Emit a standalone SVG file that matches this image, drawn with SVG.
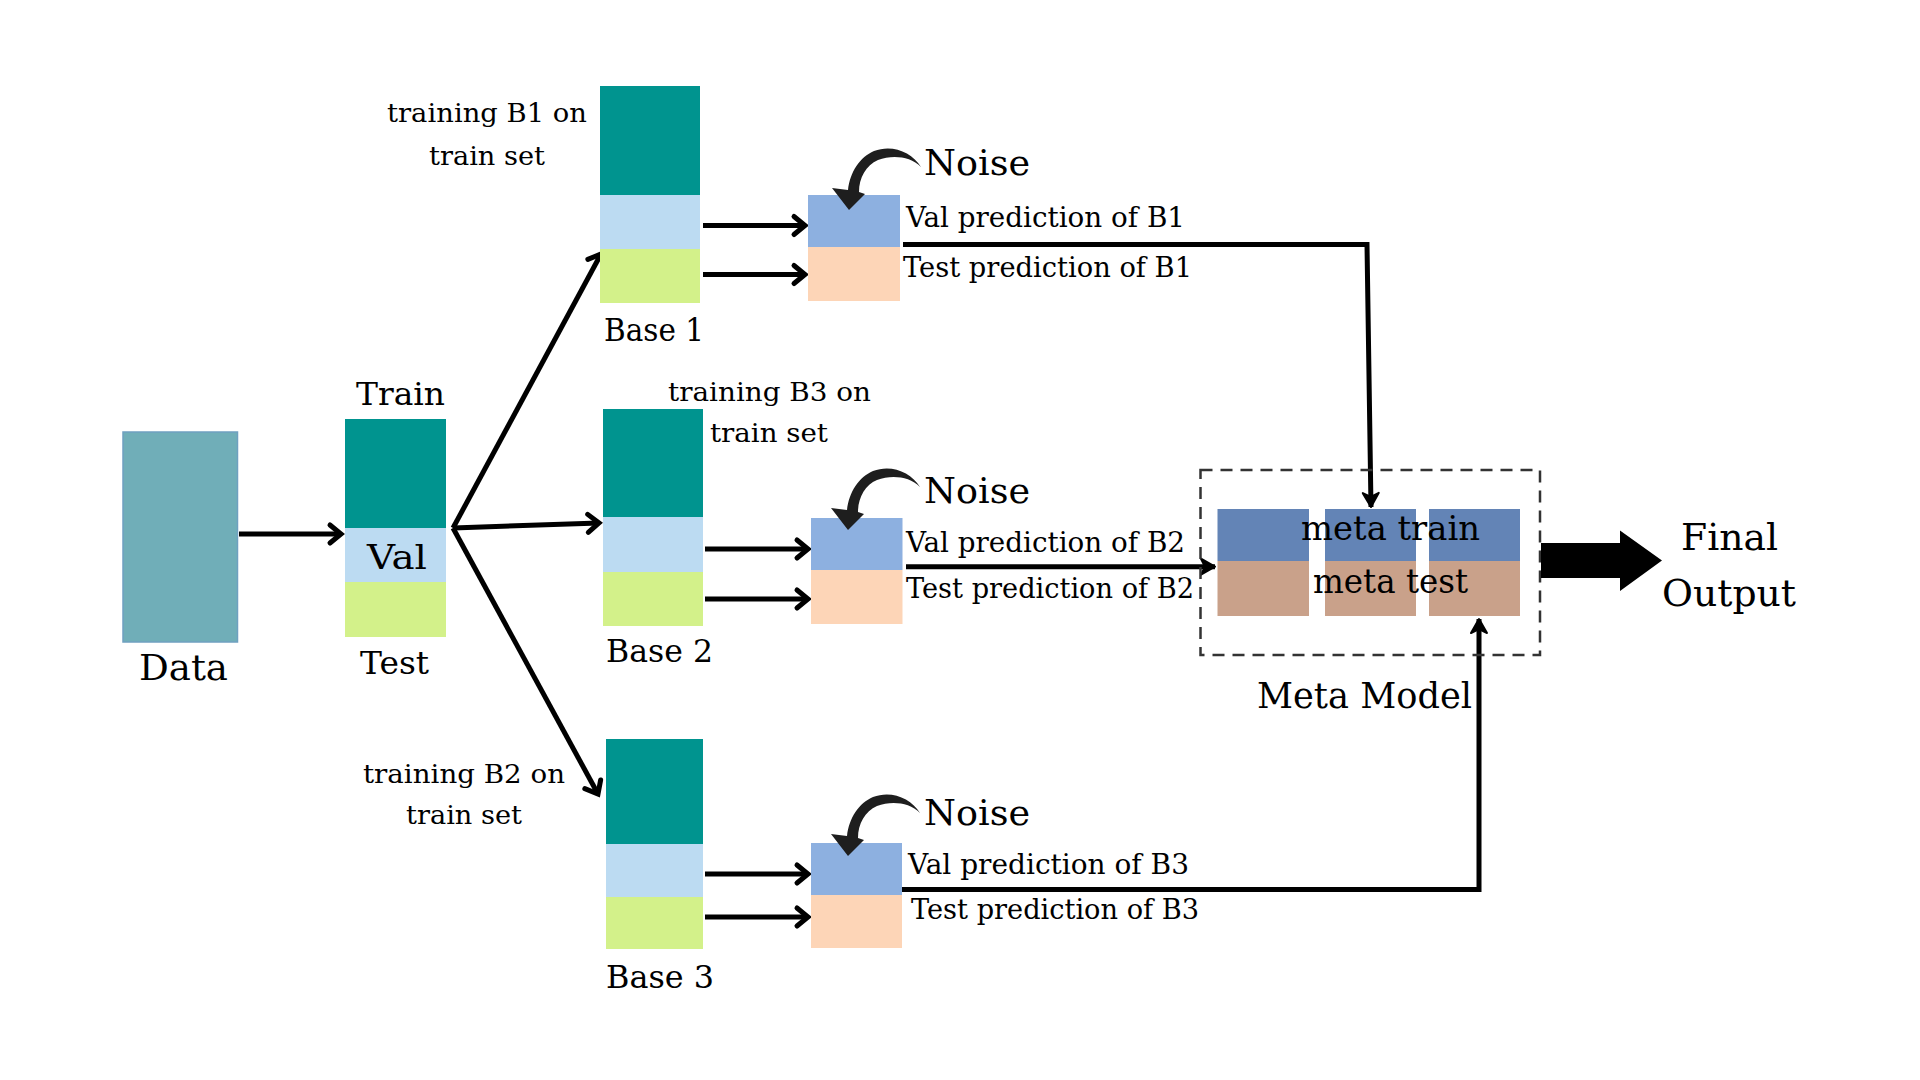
<svg xmlns="http://www.w3.org/2000/svg" xmlns:xlink="http://www.w3.org/1999/xlink" width="1920" height="1080" viewBox="0 0 1920 1080">
<style>
text{font-family:"DejaVu Serif","Liberation Serif",serif;fill:#000}
.teal{fill:#00948F}
.lblue{fill:#BCDBF2}
.lgreen{fill:#D3F18A}
.vpred{fill:#8DB0E0}
.tpred{fill:#FDD5B7}
.mblue{fill:#6384B6}
.mtan{fill:#C9A18A}
.conn{fill:none;stroke:#000;stroke-width:5}
.lab{font-size:26px}
.pred{font-size:27.5px}
.base{font-size:31px}
.big{font-size:32px}
.noise{font-size:36px}
.meta{font-size:34px}
.fin{font-size:37px}
.noisearrow{fill:#1E1E1E}
</style>
<defs>
<marker id="chev" markerUnits="userSpaceOnUse" markerWidth="30" markerHeight="30" viewBox="-20 -15 30 30" refX="0" refY="0" orient="auto" overflow="visible">
<path d="M -11 -9 L 0 0 L -11 9" fill="none" stroke="#000" stroke-width="5" stroke-linecap="round" stroke-linejoin="miter"/>
</marker>
<marker id="tri" markerUnits="userSpaceOnUse" markerWidth="30" markerHeight="30" viewBox="-20 -15 30 30" refX="0" refY="0" orient="auto" overflow="visible">
<path d="M -14 -8 L 0 0 L -14 8 L -10 0 Z" fill="#000" stroke="#000" stroke-width="2" stroke-linejoin="round"/>
</marker>
<path id="noiseArrow" class="noisearrow" d="M 109,-31 C 100,-46 80,-54 62,-47 C 48,-41 38,-26 36,-8 L 20,-10 L 37,12 L 53,-4 L 47,-6 C 47,-20 54,-33 66,-38 C 80,-43 98,-42 109,-31 Z"/>
</defs>
<rect width="1920" height="1080" fill="#fff"/>

<g id="connectors">
<path class="conn" d="M 239 534 L 341 534" marker-end="url(#chev)"/>
<path class="conn" d="M 453 528 L 601 254" marker-end="url(#chev)"/>
<path class="conn" d="M 453 528 L 599 523" marker-end="url(#chev)"/>
<path class="conn" d="M 453 528 L 598 794" marker-end="url(#chev)"/>
<path class="conn" d="M 703 225.5 L 805 225.5" marker-end="url(#chev)"/>
<path class="conn" d="M 703 274.5 L 805 274.5" marker-end="url(#chev)"/>
<path class="conn" d="M 705 549 L 808 549" marker-end="url(#chev)"/>
<path class="conn" d="M 705 599 L 808 599" marker-end="url(#chev)"/>
<path class="conn" d="M 705 874 L 808 874" marker-end="url(#chev)"/>
<path class="conn" d="M 705 917 L 808 917" marker-end="url(#chev)"/>
<path class="conn" d="M 903 244.5 L 1367 244.5 L 1371 507" marker-end="url(#tri)"/>
<path class="conn" d="M 906 566.7 L 1215 566.7" marker-end="url(#tri)"/>
<path class="conn" d="M 902 889.5 L 1479 889.5 L 1479 619" marker-end="url(#tri)"/>
</g>

<g id="node-data">
<rect x="123" y="432" width="114.5" height="210" fill="#70AEB8" stroke="#6FA0C0" stroke-width="1.5"/>
<text class="big" x="139" y="680" style="font-size:35px" textLength="89" lengthAdjust="spacingAndGlyphs">Data</text>
</g>

<g id="node-split">
<rect class="teal" x="345" y="419" width="101" height="109"/>
<rect class="lblue" x="345" y="528" width="101" height="54"/>
<rect class="lgreen" x="345" y="582" width="101" height="55"/>
<text class="big" x="356" y="405" textLength="89" lengthAdjust="spacingAndGlyphs">Train</text>
<text class="big" x="367" y="569" style="font-size:33px" textLength="60" lengthAdjust="spacingAndGlyphs">Val</text>
<text class="big" x="360" y="674" textLength="69" lengthAdjust="spacingAndGlyphs">Test</text>
</g>

<g id="node-base1">
<rect class="teal" x="600" y="86" width="100" height="109"/>
<rect class="lblue" x="600" y="195" width="100" height="54"/>
<rect class="lgreen" x="600" y="249" width="100" height="54"/>
<text class="base" x="604" y="341" textLength="100" lengthAdjust="spacingAndGlyphs">Base 1</text>
<text class="lab" x="387" y="122" textLength="200" lengthAdjust="spacingAndGlyphs">training B1 on</text>
<text class="lab" x="429" y="165" textLength="116" lengthAdjust="spacingAndGlyphs">train set</text>
</g>

<g id="node-base2">
<rect class="teal" x="603" y="409" width="100" height="108"/>
<rect class="lblue" x="603" y="517" width="100" height="55"/>
<rect class="lgreen" x="603" y="572" width="100" height="54"/>
<text class="base" x="606" y="662" textLength="107" lengthAdjust="spacingAndGlyphs">Base 2</text>
<text class="lab" x="668" y="401" textLength="203" lengthAdjust="spacingAndGlyphs">training B3 on</text>
<text class="lab" x="710" y="442" textLength="118" lengthAdjust="spacingAndGlyphs">train set</text>
</g>

<g id="node-base3">
<rect class="teal" x="606" y="739" width="97" height="105"/>
<rect class="lblue" x="606" y="844" width="97" height="53"/>
<rect class="lgreen" x="606" y="897" width="97" height="52"/>
<text class="base" x="606" y="988" textLength="108" lengthAdjust="spacingAndGlyphs">Base 3</text>
<text class="lab" x="363" y="783" textLength="202" lengthAdjust="spacingAndGlyphs">training B2 on</text>
<text class="lab" x="406" y="824" textLength="116" lengthAdjust="spacingAndGlyphs">train set</text>
</g>

<g id="node-pred1">
<rect class="vpred" x="808" y="195" width="92" height="52"/>
<rect class="tpred" x="808" y="247" width="92" height="54"/>
<use xlink:href="#noiseArrow" href="#noiseArrow" transform="translate(812,198)"/>
<text class="noise" x="924" y="175" textLength="106" lengthAdjust="spacingAndGlyphs">Noise</text>
<text class="pred" x="906" y="227" textLength="279" lengthAdjust="spacingAndGlyphs">Val prediction of B1</text>
<text class="pred" x="903" y="277" textLength="289" lengthAdjust="spacingAndGlyphs">Test prediction of B1</text>
</g>

<g id="node-pred2">
<rect class="vpred" x="811" y="518" width="91.5" height="52"/>
<rect class="tpred" x="811" y="570" width="91.5" height="54"/>
<use xlink:href="#noiseArrow" href="#noiseArrow" transform="translate(811,518)"/>
<text class="noise" x="924" y="503" textLength="106" lengthAdjust="spacingAndGlyphs">Noise</text>
<text class="pred" x="906" y="552" textLength="279" lengthAdjust="spacingAndGlyphs">Val prediction of B2</text>
<text class="pred" x="906" y="598" textLength="288" lengthAdjust="spacingAndGlyphs">Test prediction of B2</text>
</g>

<g id="node-pred3">
<rect class="vpred" x="811" y="843" width="91" height="52"/>
<rect class="tpred" x="811" y="895" width="91" height="53"/>
<use xlink:href="#noiseArrow" href="#noiseArrow" transform="translate(811,844)"/>
<text class="noise" x="924" y="825" textLength="106" lengthAdjust="spacingAndGlyphs">Noise</text>
<text class="pred" x="908" y="874" textLength="281" lengthAdjust="spacingAndGlyphs">Val prediction of B3</text>
<text class="pred" x="911" y="919" textLength="288" lengthAdjust="spacingAndGlyphs">Test prediction of B3</text>
</g>

<g id="node-meta">
<rect x="1200.5" y="470" width="339.5" height="185" fill="none" stroke="#333" stroke-width="2.5" stroke-dasharray="12 8"/>
<rect class="mblue" x="1217.5" y="509" width="91.5" height="52"/>
<rect class="mtan" x="1217.5" y="561" width="91.5" height="55"/>
<rect class="mblue" x="1325" y="509" width="91" height="52"/>
<rect class="mtan" x="1325" y="561" width="91" height="55"/>
<rect class="mblue" x="1429" y="509" width="91" height="52"/>
<rect class="mtan" x="1429" y="561" width="91" height="55"/>
<text class="meta" x="1301" y="540" textLength="179" lengthAdjust="spacingAndGlyphs">meta train</text>
<text class="meta" x="1313" y="593" textLength="155" lengthAdjust="spacingAndGlyphs">meta test</text>
<text class="fin" x="1257" y="708" style="font-size:35.5px" textLength="215" lengthAdjust="spacingAndGlyphs">Meta Model</text>
</g>

<g id="node-output">
<polygon points="1541,543 1620,543 1620,530.5 1662,560.5 1620,591 1620,578 1541,578" fill="#000"/>
<text class="fin" x="1681" y="550" textLength="97" lengthAdjust="spacingAndGlyphs">Final</text>
<text class="fin" x="1662" y="606" textLength="134" lengthAdjust="spacingAndGlyphs">Output</text>
</g>
</svg>
